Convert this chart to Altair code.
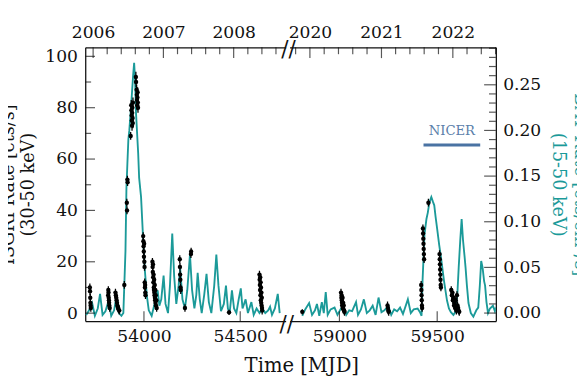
import altair as alt
import pandas as pd

TEAL = "#1b9a99"
INK = "#111111"
NICER_C = "#4a73a3"
FONT = "DejaVu Serif"

# ---------------- data ----------------
# Swift/BAT light curve (15-50 keV), first epoch
bat_left_mjd = [53700, 53715, 53731, 53745, 53760, 53772, 53785, 53800, 53817, 53830,
                53845, 53858, 53870, 53883, 53893, 53904, 53909, 53914, 53919, 53924,
                53934, 53944, 53949, 53954, 53959, 53970, 53975, 53985, 53995, 54005,
                54015, 54025, 54040, 54055, 54071, 54080, 54090, 54102, 54112, 54125,
                54135, 54147, 54157, 54168, 54180, 54188, 54200, 54213, 54225, 54239,
                54250, 54262, 54272, 54279, 54290, 54300, 54313, 54325, 54337, 54350,
                54365, 54376, 54387, 54400, 54415, 54426, 54436, 54445, 54457, 54468,
                54480, 54492, 54503, 54512, 54528, 54540, 54558, 54570, 54585, 54600,
                54615, 54630, 54645, 54655, 54665, 54680, 54695, 54705]
bat_left_rate = [-0.002, 0.003, 0.011, -0.003, 0.005, 0.021, -0.002, 0.002, 0.014, -0.003,
                 0.003, 0.019, 0.000, -0.003, 0.000, 0.068, 0.137, 0.164, 0.190, 0.200,
                 0.229, 0.261, 0.274, 0.255, 0.218, 0.175, 0.148, 0.127, 0.084, 0.046,
                 0.019, 0.003, -0.003, 0.010, 0.025, 0.008, 0.015, 0.041, 0.010, 0.000,
                 0.030, 0.087, 0.040, 0.010, 0.030, 0.049, 0.015, 0.005, 0.025, 0.064,
                 0.025, 0.005, 0.020, 0.044, 0.015, 0.000, 0.020, 0.043, 0.012, 0.000,
                 0.030, 0.064, 0.030, 0.002, 0.010, 0.030, 0.005, 0.000, 0.025, 0.005,
                 0.000, 0.015, 0.027, 0.005, 0.015, 0.000, 0.012, -0.002, 0.005, 0.000,
                 0.005, 0.000, 0.003, 0.007, -0.002, 0.005, 0.021, 0.000]

# Swift/BAT light curve, second epoch
bat_right_mjd = [58810, 58825, 58845, 58860, 58875, 58885, 58897, 58910, 58920, 58930,
                 58940, 58955, 58975, 58990, 59005, 59020, 59035, 59050, 59065, 59085,
                 59095, 59110, 59125, 59140, 59155, 59170, 59185, 59200, 59215, 59230,
                 59250, 59265, 59280, 59295, 59310, 59325, 59350, 59365, 59380, 59400,
                 59412, 59420, 59425, 59430, 59435, 59445, 59452, 59460, 59470, 59478,
                 59485, 59492, 59500, 59510, 59520, 59535, 59550, 59560, 59570, 59583,
                 59595, 59603, 59610, 59618, 59625, 59632, 59640, 59645, 59652, 59660,
                 59672, 59685, 59700, 59710, 59718, 59725, 59732, 59740, 59745, 59752,
                 59760, 59770, 59785, 59795, 59800]
bat_right_rate = [-0.003, 0.004, 0.011, -0.002, 0.003, 0.010, -0.003, 0.012, 0.000, 0.023,
                  -0.002, 0.004, 0.006, -0.002, 0.004, 0.008, -0.002, 0.003, 0.002, 0.012,
                  -0.002, 0.004, 0.015, 0.000, 0.003, 0.008, -0.002, 0.017, 0.001, 0.003,
                  0.008, -0.002, 0.004, 0.002, 0.006, -0.001, 0.015, 0.000, 0.004, 0.005,
                  0.001, -0.003, 0.035, 0.060, 0.086, 0.103, 0.110, 0.121, 0.127, 0.122,
                  0.118, 0.105, 0.092, 0.075, 0.060, 0.035, 0.014, 0.005, 0.001, -0.002,
                  0.002, 0.020, 0.050, 0.080, 0.103, 0.080, 0.062, 0.050, 0.030, 0.011,
                  0.000, -0.004, 0.003, 0.006, 0.030, 0.057, 0.050, 0.035, 0.030, 0.012,
                  0.000, 0.005, 0.008, 0.002, 0.006]

# INTEGRAL/ISGRI (30-50 keV), first epoch
isgri_left_mjd = [53719, 53720, 53721, 53722, 53723, 53724,
                  53814, 53815, 53816, 53817, 53818, 53819, 53820, 53822,
                  53852, 53854, 53856, 53858, 53860, 53862, 53864, 53866, 53868, 53872,
                  53898, 53911, 53912, 53914, 53915, 53931,
                  53934, 53935, 53936, 53937, 53938, 53939, 53940, 53941, 53942, 53943,
                  53958, 53959, 53962, 53963, 53964, 53965, 53966, 53967, 53968, 53969,
                  53996, 53997, 53998, 53999, 54000, 54001, 54002, 54003, 54004, 54005,
                  54006, 54007, 54008,
                  54044, 54045, 54046, 54047, 54048, 54049, 54050, 54051, 54052, 54053,
                  54054, 54055, 54056, 54057, 54058, 54059, 54060, 54061, 54062, 54064, 54066,
                  54186, 54187, 54188, 54189, 54190, 54191, 54213, 54244, 54245, 54442,
                  54600, 54601, 54602, 54603, 54604, 54605, 54606, 54607, 54608, 54609,
                  54610, 54611, 54612, 54613, 54614]
isgri_left_rate = [10, 8.5, 6, 4, 3, 2,
                   7, 9, 8, 6, 5, 4, 3, 2,
                   8, 7, 6, 5, 4, 3, 2.5, 2, 1.5, 1,
                   11, 43, 40, 52, 51, 69,
                   81, 79, 77, 75, 73, 78, 80, 76, 74, 82,
                   92, 90, 87, 85, 83, 81, 84, 86, 82, 80,
                   30, 28, 26, 24, 22, 27, 20, 18, 12, 10,
                   11, 8, 7,
                   20, 18, 16, 19, 14, 12, 15, 10, 9, 13,
                   8, 7, 11, 6, 5, 9, 4, 7, 3, 5, 2,
                   21, 18, 15, 13, 10, 9, 2, 23, 24, 0.3,
                   15, 13, 11, 9, 14, 7, 12, 5, 10, 4,
                   8, 3, 6, 2, 1]
isgri_left_err = [1.5] * 30 + [2.0] * 20 + [1.5] * 43 + [1.0] + [1.5] * 15

# INTEGRAL/ISGRI, second epoch
isgri_right_mjd = [58810,
                   59008, 59010, 59011, 59012, 59013, 59014, 59016, 59017, 59019, 59020,
                   59022, 59024, 59026,
                   59246, 59248, 59250, 59252,
                   59418, 59419, 59420, 59421, 59422, 59423,
                   59427, 59428, 59429, 59430, 59431, 59432, 59433,
                   59455,
                   59512, 59513, 59514, 59515, 59516, 59517, 59518, 59519,
                   59572, 59575, 59578, 59580, 59583, 59586, 59589, 59592, 59595, 59598,
                   59601, 59604, 59607, 59610, 59613]
isgri_right_rate = [0.5,
                    8, 6, 7, 5, 4, 3, 6, 2, 4, 1.5,
                    3, 1, 0.5,
                    3, 2, 1, 0.5,
                    11, 9, 7, 5, 3, 2,
                    33, 31, 29, 27, 25, 23, 21,
                    43,
                    23, 21, 19, 17, 15, 13, 11, 10,
                    9, 7, 8, 5, 6, 3, 4, 2, 5, 1,
                    7, 3, 2, 1, 0.5]
isgri_right_err = [1.0] + [1.5] * 54

# axis ticks / labels
left_years = [53736, 54101, 54466]
left_year_labels = ["2006", "2007", "2008"]
right_years = [58849, 59215, 59580]
right_year_labels = ["2020", "2021", "2022"]
left_bottom_ticks = [54000, 54500]
right_bottom_ticks = [59000, 59500]
isgri_major = [0, 20, 40, 60, 80, 100]
isgri_minor = [10, 30, 50, 70, 90]
bat_major = [0.0, 0.05, 0.10, 0.15, 0.20, 0.25]
bat_minor = [0.01, 0.02, 0.03, 0.04, 0.06, 0.07, 0.08, 0.09, 0.11, 0.12, 0.13, 0.14,
             0.16, 0.17, 0.18, 0.19, 0.21, 0.22, 0.23, 0.24, 0.26, 0.27, 0.28, 0.29]

# NICER coverage bar
nicer_start = [59430]
nicer_end = [59720]
nicer_level = [0.184]
nicer_label = ["NICER"]

# ---------------- layout constants ----------------
LEFT_DOM = [53695, 54736]
RIGHT_DOM = [58745, 59800]
ISGRI_DOM = [-3.1, 103.5]
BAT_DOM = [-0.0088, 0.291]
WL, WR, H = 205, 211, 280


def minor_years(first_year_mjd, dom):
    out = []
    for k in range(-5, 30):
        if k % 5 == 0:
            continue
        v = first_year_mjd + k * 365.25 / 5.0
        if dom[0] < v < dom[1]:
            out.append(v)
    return out


def year_expr(vals, labels):
    parts = [f"datum.value == {v} ? '{l}'" for v, l in zip(vals, labels)]
    return " : ".join(parts) + " : ''"


def xs(dom):
    return alt.Scale(domain=dom, nice=False, zero=False)


ys_i = alt.Scale(domain=ISGRI_DOM, nice=False, zero=False)
ys_b = alt.Scale(domain=BAT_DOM, nice=False, zero=False)


def panel(side):
    if side == "left":
        dom, W = LEFT_DOM, WL
        bat = pd.DataFrame({"mjd": bat_left_mjd, "rate": bat_left_rate})
        isg = pd.DataFrame({"mjd": isgri_left_mjd, "rate": isgri_left_rate, "err": isgri_left_err})
        years, ylabels, bticks = left_years, left_year_labels, left_bottom_ticks
    else:
        dom, W = RIGHT_DOM, WR
        bat = pd.DataFrame({"mjd": bat_right_mjd, "rate": bat_right_rate})
        isg = pd.DataFrame({"mjd": isgri_right_mjd, "rate": isgri_right_rate, "err": isgri_right_err})
        years, ylabels, bticks = right_years, right_year_labels, right_bottom_ticks
    isg["lo"] = isg["rate"] - isg["err"]
    isg["hi"] = isg["rate"] + isg["err"]

    if side == "right":
        bottom_axis = alt.Axis(orient="bottom", values=bticks, format="d", ticks=False, tickSize=0,
                               labelPadding=7, labelFlush=False, grid=False,
                               title="Time [MJD]", titleX=12, titleY=52, titleAlign="center",
                               titleBaseline="alphabetic", titleFontSize=20)
        bat_y_axis = alt.Axis(orient="right", values=bat_major, format=".2f", ticks=False, tickSize=0,
                              labelPadding=7, labelFlush=False, grid=False,
                              title=["BAT Rate [cts/cm²/s]", "(15-50 keV)"], titleColor=TEAL,
                              titleAngle=90, titleX=80, titleY=H / 2, titleAlign="center",
                              titleBaseline="alphabetic", titleLineHeight=22, titleFontSize=18)
        isg_y_axis = None
    else:
        bottom_axis = alt.Axis(orient="bottom", values=bticks, format="d", ticks=False, tickSize=0,
                               labelPadding=7, labelFlush=False, grid=False, title=None)
        bat_y_axis = None
        isg_y_axis = alt.Axis(orient="left", values=isgri_major, ticks=False, tickSize=0,
                              labelPadding=8, labelFlush=False, grid=False,
                              title=["ISGRI Rate [cts/s]", "(30-50 keV)"],
                              titleAngle=-90, titleX=-73, titleY=H / 2, titleAlign="center",
                              titleBaseline="alphabetic", titleLineHeight=20, titleFontSize=18)

    line = alt.Chart(bat).mark_line(color=TEAL, strokeWidth=1.9, clip=True).encode(
        x=alt.X("mjd:Q", scale=xs(dom), axis=bottom_axis),
        y=alt.Y("rate:Q", scale=ys_b, axis=bat_y_axis),
    )
    err = alt.Chart(isg).mark_rule(color="black", strokeWidth=1.3, clip=True).encode(
        x=alt.X("mjd:Q", scale=xs(dom), axis=None),
        y=alt.Y("lo:Q", scale=ys_i, axis=None),
        y2="hi:Q",
    )
    pts = alt.Chart(isg).mark_point(filled=True, color="black", size=20, opacity=1, clip=True).encode(
        x=alt.X("mjd:Q", scale=xs(dom), axis=None),
        y=alt.Y("rate:Q", scale=ys_i, axis=isg_y_axis),
    )

    top_major = alt.Chart(pd.DataFrame({"v": years})).mark_tick(
        orient="vertical", color=INK, size=11, thickness=1.2).encode(
        x=alt.X("v:Q", scale=xs(dom),
                axis=alt.Axis(orient="top", values=years, labelExpr=year_expr(years, ylabels),
                              ticks=False, tickSize=0, labelPadding=6, labelFlush=False,
                              grid=False, title=None)),
        y=alt.value(5.5),
    )
    top_minor = alt.Chart(pd.DataFrame({"v": minor_years(years[0], dom)})).mark_tick(
        orient="vertical", color=INK, size=7, thickness=1.2).encode(
        x=alt.X("v:Q", scale=xs(dom), axis=None),
        y=alt.value(3.5),
    )
    bottom_major = alt.Chart(pd.DataFrame({"v": bticks})).mark_tick(
        orient="vertical", color=INK, size=10, thickness=1.2).encode(
        x=alt.X("v:Q", scale=xs(dom), axis=None),
        y=alt.value(H - 5),
    )
    layers = [line, err, pts, top_major, top_minor, bottom_major]

    if side == "left":
        layers.append(alt.Chart(pd.DataFrame({"v": isgri_major})).mark_tick(
            orient="horizontal", color=INK, size=10, thickness=1.2).encode(
            y=alt.Y("v:Q", scale=ys_i, axis=None), x=alt.value(5)))
        layers.append(alt.Chart(pd.DataFrame({"v": isgri_minor})).mark_tick(
            orient="horizontal", color=INK, size=6, thickness=1.2).encode(
            y=alt.Y("v:Q", scale=ys_i, axis=None), x=alt.value(3)))
        brk = pd.DataFrame({"t": ["//"]})
        layers.append(alt.Chart(brk).mark_text(fontSize=22, color=INK, font=FONT,
                                               baseline="middle", align="center").encode(
            text="t:N", x=alt.value(W + 3), y=alt.value(2)))
        layers.append(alt.Chart(brk).mark_text(fontSize=22, color=INK, font=FONT,
                                               baseline="middle", align="center").encode(
            text="t:N", x=alt.value(W + 1), y=alt.value(H + 3)))
    else:
        layers.append(alt.Chart(pd.DataFrame({"v": bat_major})).mark_tick(
            orient="horizontal", color=INK, size=12, thickness=1.2).encode(
            y=alt.Y("v:Q", scale=ys_b, axis=None), x=alt.value(W - 6)))
        layers.append(alt.Chart(pd.DataFrame({"v": bat_minor})).mark_tick(
            orient="horizontal", color=INK, size=7, thickness=1.2).encode(
            y=alt.Y("v:Q", scale=ys_b, axis=None), x=alt.value(W - 3.5)))
        nic = pd.DataFrame({"s": nicer_start, "e": nicer_end, "lvl": nicer_level, "lab": nicer_label})
        nic["mid"] = (nic["s"] + nic["e"]) / 2
        layers.append(alt.Chart(nic).mark_rule(color=NICER_C, strokeWidth=3).encode(
            x=alt.X("s:Q", scale=xs(dom), axis=None), x2="e:Q",
            y=alt.Y("lvl:Q", scale=ys_b, axis=None)))
        layers.append(alt.Chart(nic).mark_text(color="#5b80aa", fontSize=13.5, font=FONT,
                                               baseline="middle", dy=-14).encode(
            x=alt.X("mid:Q", scale=xs(dom), axis=None),
            y=alt.Y("lvl:Q", scale=ys_b, axis=None),
            text="lab:N"))

    return alt.layer(*layers).resolve_scale(x="independent", y="independent").properties(
        width=W, height=H)


chart = alt.hconcat(panel("left"), panel("right"), spacing=4, bounds="flush").properties(
    padding={"left": -9, "right": -11, "top": 12, "bottom": 0}
).configure(font=FONT).configure_view(stroke=None).configure_axis(
    grid=False, labelFont=FONT, labelFontSize=17.5, labelColor=INK,
    titleFont=FONT, titleFontWeight="normal", titleColor=INK,
    domainColor=INK, domainWidth=1.3,
)

chart.save("out.html", embed_options={"renderer": "svg", "actions": False})
